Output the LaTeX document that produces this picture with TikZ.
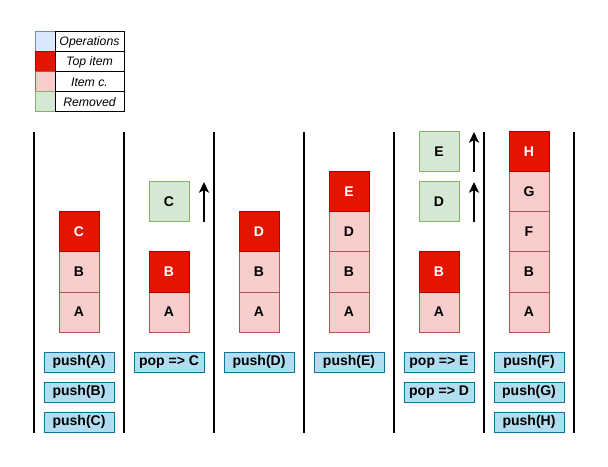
\documentclass[tikz,border=0pt]{standalone}
\usepackage{fontspec}
\setmainfont{Liberation Sans}
\usetikzlibrary{positioning}
\usetikzlibrary{arrows.meta}
\definecolor{topfill}{HTML}{E51400}
\definecolor{topline}{HTML}{B20000}
\definecolor{itemfill}{HTML}{F8CECC}
\definecolor{itemline}{HTML}{B85450}
\definecolor{gonefill}{HTML}{D5E8D4}
\definecolor{goneline}{HTML}{82B366}
\definecolor{opfill}{HTML}{B1DDF0}
\definecolor{opline}{HTML}{10739E}
\definecolor{legfill}{HTML}{DAE8FC}
\definecolor{legline}{HTML}{6C8EBF}
\tikzset{%
    item/.style={inner sep=0pt,outer sep=0pt,shape=rectangle,draw=itemline,fill=itemfill,line width=0.75pt,minimum size=30pt,font=\bfseries\fontsize{10.5}{12}\selectfont},
    top item/.style={item,draw=topline,fill=topfill,text=white},
    removed/.style={item,draw=goneline,fill=gonefill},
    op/.style={inner sep=0pt,outer sep=0pt,shape=rectangle,draw=opline,fill=opfill,line width=0.75pt,minimum width=52.5pt,minimum height=15pt,font=\bfseries\fontsize{10.5}{12}\selectfont},
    swatch/.style={inner sep=0pt,outer sep=0pt,shape=rectangle,line width=0.75pt,minimum size=15pt},
    legtext/.style={inner sep=0pt,outer sep=0pt,shape=rectangle,draw,line width=0.75pt,minimum width=51.75pt,minimum height=15pt,font=\itshape\fontsize{9.2}{11}\selectfont},
    wall/.style={line width=1.5pt},
    popped/.style={-{Stealth[length=8pt,width=7.5pt,inset=2pt]},line width=1.5pt},
}
\begin{document}
\begin{tikzpicture}[x=0.75pt,y=-0.75pt]
        \useasboundingbox (0,0) rectangle (608,467);

        \node [swatch,draw=legline,fill=legfill] (L1) at (45,42) {};
        \node [swatch,draw=topline,fill=topfill] (L2) at (45,62) {};
        \node [swatch,draw=itemline,fill=itemfill] (L3) at (45,82) {};
        \node [swatch,draw=goneline,fill=gonefill] (L4) at (45,102) {};
        \node [legtext,right=0pt of L1] (T1) {Operations};
        \node [legtext,right=0pt of L2] (T2) {Top item};
        \node [legtext,right=0pt of L3] (T3) {Item c.};
        \node [legtext,right=0pt of L4] (T4) {Removed};

        \foreach \x in {34,124,214,304,394,484,574}
            \draw [wall] (\x,132) -- (\x,433);

        \node [item] (A1) at (79,312) {A};
        \node [item,above=0pt of A1] (B1) {B};
        \node [top item,above=0pt of B1] (C1) {C};
        \node [op] (op11) at (79,362) {push(A)};
        \node [op] (op12) at (79,392) {push(B)};
        \node [op] (op13) at (79,422) {push(C)};

        \node [item] (A2) at (169,312) {A};
        \node [top item,above=0pt of A2] (B2) {B};
        \node [removed] (C2) at (169,202) {C};
        \coordinate (popC1) at (204,222);
        \coordinate (popC2) at (204,182);
        \draw [popped] (popC1) -- (popC2);
        \node [op] (op21) at (169,362) {pop => C};

        \node [item] (A3) at (259,312) {A};
        \node [item,above=0pt of A3] (B3) {B};
        \node [top item,above=0pt of B3] (D3) {D};
        \node [op] (op31) at (259,362) {push(D)};

        \node [item] (A4) at (349,312) {A};
        \node [item,above=0pt of A4] (B4) {B};
        \node [item,above=0pt of B4] (D4) {D};
        \node [top item,above=0pt of D4] (E4) {E};
        \node [op] (op41) at (349,362) {push(E)};

        \node [item] (A5) at (439,312) {A};
        \node [top item,above=0pt of A5] (B5) {B};
        \node [removed] (D5) at (439,202) {D};
        \node [removed] (E5) at (439,152) {E};
        \coordinate (popD1) at (474,222);
        \coordinate (popD2) at (474,182);
        \coordinate (popE1) at (474,172);
        \coordinate (popE2) at (474,132);
        \draw [popped] (popD1) -- (popD2);
        \draw [popped] (popE1) -- (popE2);
        \node [op] (op51) at (439,362) {pop => E};
        \node [op] (op52) at (439,392) {pop => D};

        \node [item] (A6) at (529,312) {A};
        \node [item,above=0pt of A6] (B6) {B};
        \node [item,above=0pt of B6] (F6) {F};
        \node [item,above=0pt of F6] (G6) {G};
        \node [top item,above=0pt of G6] (H6) {H};
        \node [op] (op61) at (529,362) {push(F)};
        \node [op] (op62) at (529,392) {push(G)};
        \node [op] (op63) at (529,422) {push(H)};
      \end{tikzpicture}
\end{document}
